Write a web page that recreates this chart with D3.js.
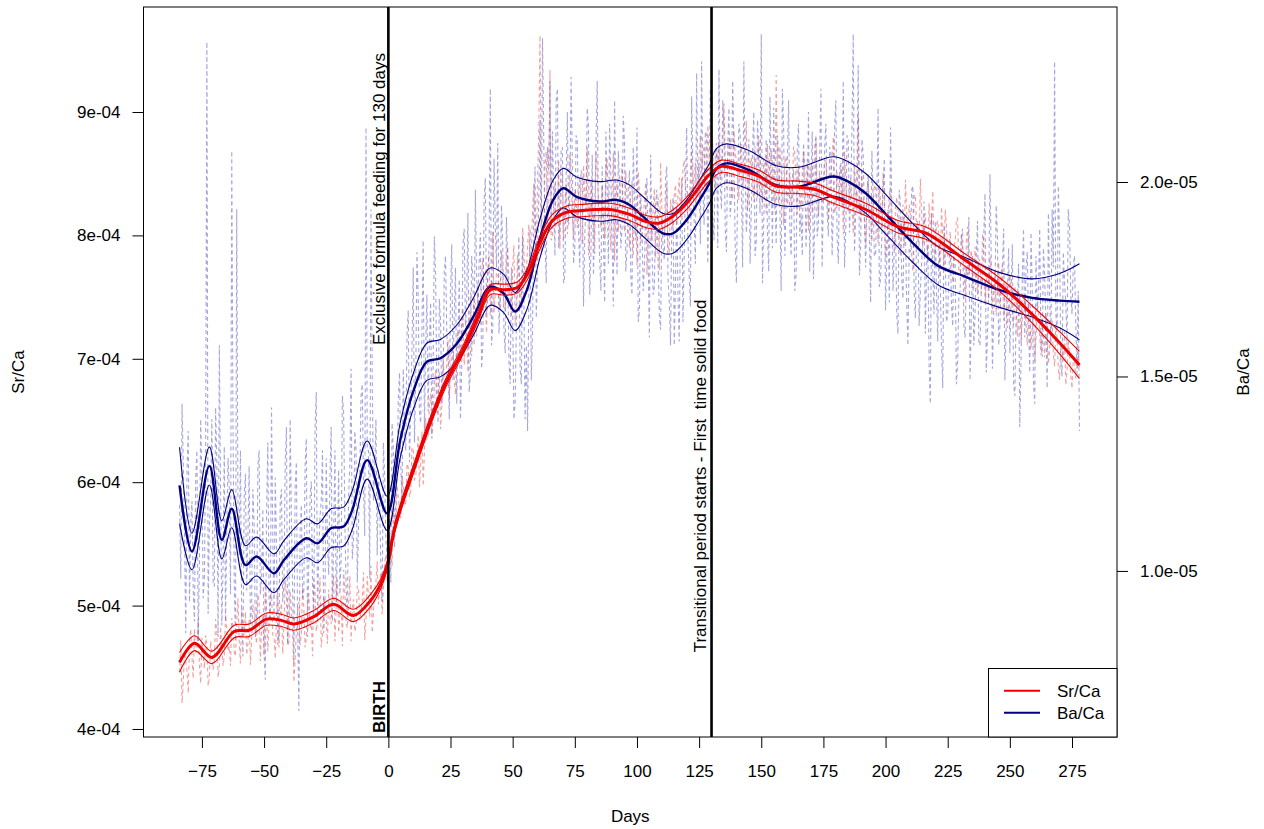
<!DOCTYPE html>
<html>
<head>
<meta charset="utf-8">
<script src="https://cdn.jsdelivr.net/npm/d3@7"></script>
<style>
  body { margin: 0; background: #fff; }
  svg { display: block; font-family: "Liberation Sans", Arial, sans-serif; }
</style>
</head>
<body>
<svg id="chart" width="1264" height="829"></svg>
<script>
// Units used in the stored arrays
const SR_UNIT = 1e-6;   // Sr/Ca values are stored in units of 1e-6
const BA_UNIT = 1e-7;   // Ba/Ca values are stored in units of 1e-7

// Samples are taken twice a day: whole days -84 .. 278 and half days -83.5 .. 277.5 (day 0 = birth)
const wholeDays = d3.range(-84, 279);
const halfDays = d3.range(-83.5, 278, 1);

const srRaw = [
  446,421,462,447,470,458,481,463,452,474,
  449,468,441,462,455,478,450,466,459,482,
  467,490,462,485,471,498,476,460,489,472,
  494,469,503,481,460,497,486,512,474,491,
  466,502,484,509,470,495,438,480,503,477,
  498,473,510,488,521,479,496,466,507,490,
  513,485,524,499,478,508,529,486,501,471,
  505,483,514,496,527,489,508,532,495,519,
  501,526,512,541,528,549,582,566,588,571,
  598,581,612,593,627,604,638,615,597,652,
  637,672,650,691,668,643,702,679,715,688,
  706,671,723,698,741,712,689,754,727,745,
  761,728,782,744,769,735,803,752,773,741,
  766,739,791,748,775,727,784,759,806,762,
  791,772,820,798,845,962,803,856,812,934,
  798,842,811,789,853,824,801,866,815,837,
  806,848,793,832,871,809,826,785,851,818,
  840,797,862,814,833,779,845,821,858,803,
  829,790,844,812,776,835,801,826,768,819,
  795,838,807,772,824,799,842,786,818,833,
  809,847,826,861,834,818,872,845,829,866,
  851,873,838,862,890,844,868,879,852,907,
  838,872,846,885,861,829,874,851,893,840,
  863,827,856,881,839,862,818,847,869,834,
  930,826,851,808,864,837,819,872,843,856,
  821,868,835,804,857,842,879,816,848,829,
  861,812,846,880,823,839,855,801,842,819,
  847,801,836,897,810,829,792,844,815,826,
  838,794,826,851,781,817,839,797,822,806,
  784,825,845,799,816,771,833,808,846,790,
  818,779,805,836,787,812,766,798,821,782,
  803,762,795,814,770,789,748,807,781,763,
  791,752,778,801,744,769,783,739,772,757,
  741,776,749,725,768,736,759,718,751,733,
  752,711,738,726,697,744,719,733,701,725,
  708,731,694,717,683,709,722,690,705,676,
  701,688,693
];
const srRawHalf = [
  472,438,455,429,481,441,462,490,437,459,
  476,435,471,448,489,442,483,451,492,463,
  451,483,459,506,453,479,495,469,452,501,
  478,509,455,492,518,463,502,476,457,514,
  493,461,521,468,512,479,456,499,468,515,
  466,503,482,459,512,487,523,478,501,469,
  489,516,471,521,493,467,511,482,524,498,
  479,516,488,503,472,524,491,478,513,536,
  514,493,535,519,557,532,561,597,574,605,
  583,615,588,628,602,619,596,641,623,635,
  662,639,677,656,689,662,684,698,667,709,
  683,712,704,729,695,731,718,702,746,718,
  741,767,749,721,784,759,738,771,745,787,
  744,778,761,734,792,751,772,741,788,771,
  809,785,842,779,884,826,791,868,823,796,
  827,808,861,834,796,842,822,855,797,831,
  834,799,857,821,784,844,812,868,829,806,
  815,853,828,788,867,824,803,839,816,852,
  807,836,783,821,852,794,817,843,798,827,
  821,782,831,859,803,815,791,829,806,841,
  832,815,854,838,809,850,829,859,837,881,
  864,836,889,851,871,838,861,845,874,866,
  859,880,829,867,846,871,838,862,820,857,
  844,872,831,859,826,851,874,836,858,821,
  849,872,836,860,822,851,840,866,817,838,
  851,829,862,843,818,872,835,850,826,858,
  837,829,863,818,851,824,845,868,826,838,
  826,858,819,838,852,811,837,824,795,841,
  812,841,806,828,794,832,812,788,831,797,
  809,792,818,825,784,832,803,791,819,808,
  794,826,812,782,809,797,823,776,808,791,
  779,792,813,770,801,782,796,768,788,757,
  768,781,753,794,762,748,771,756,735,778,
  759,731,762,743,756,727,749,738,712,744,
  729,745,708,734,715,741,703,718,737,696,
  722,703,728,691,712,698,679,714,687,701,
  684,706
];

const baRaw = [
  117,143,109,126,92,118,87,131,102,124,
  98,236,112,139,96,128,158,86,132,111,
  121,208,97,193,104,88,119,95,127,91,
  112,86,131,98,79,115,93,142,88,106,
  84,121,97,137,90,113,76,128,64,117,
  95,134,102,123,89,146,105,118,84,129,
  99,137,110,92,126,103,141,96,119,152,
  108,131,112,145,121,214,131,193,118,139,
  126,101,133,108,122,97,131,118,144,127,
  152,131,167,143,178,149,171,138,185,157,
  141,169,152,176,138,164,148,181,155,172,
  149,178,160,139,184,163,192,151,175,198,
  168,187,158,201,176,224,163,189,210,171,
  184,156,179,148,167,143,175,152,186,139,
  136,188,162,204,178,216,237,185,209,226,
  213,181,224,191,209,176,218,196,205,183,
  211,178,202,186,219,171,207,192,226,180,
  204,169,197,215,185,221,176,199,188,210,
  182,203,171,196,214,167,189,178,201,160,
  185,173,198,166,191,180,204,169,188,158,
  194,159,201,181,214,176,222,190,228,205,
  231,189,212,198,220,185,210,229,193,214,
  182,219,196,208,174,215,199,231,187,211,
  193,218,185,206,238,190,211,177,203,219,
  184,207,172,214,195,221,181,203,176,215,
  192,210,183,218,199,175,212,189,224,197,
  215,186,208,193,221,179,205,226,188,211,
  198,238,192,230,184,207,178,202,169,196,
  181,219,175,199,167,193,214,172,189,161,
  194,170,187,158,182,199,165,190,172,186,
  161,184,143,177,190,159,174,147,181,166,
  185,163,179,154,172,188,160,176,149,181,
  166,190,158,175,197,161,202,152,170,186,
  163,178,149,171,156,184,145,168,137,175,
  160,182,151,173,143,167,188,155,176,147,
  171,193,231,162,185,150,174,158,189,166,
  181,152,136
];
const baRawHalf = [
  98,128,84,136,112,95,124,82,139,93,
  131,89,118,97,142,83,121,101,87,129,
  94,138,82,116,131,78,125,109,86,121,
  83,127,94,116,72,133,87,109,124,81,
  118,92,128,81,139,95,122,86,110,93,
  127,83,119,96,137,88,114,131,92,108,
  124,87,131,106,94,145,113,88,127,103,
  136,97,124,148,109,131,98,151,126,104,
  117,92,124,103,112,138,106,125,151,118,
  135,161,128,157,133,182,141,162,136,171,
  159,134,186,147,170,143,177,161,139,184,
  166,143,175,152,188,169,146,181,158,176,
  179,152,195,166,183,158,206,178,161,194,
  162,191,154,178,139,163,186,148,171,158,
  171,149,193,165,196,182,211,174,203,188,
  196,221,183,208,174,201,189,227,179,212,
  187,203,168,195,214,183,176,209,191,172,
  186,213,179,201,168,192,208,183,217,177,
  198,176,209,185,164,197,172,193,181,207,
  171,194,179,162,183,201,175,158,196,174,
  171,189,164,199,185,168,203,179,196,184,
  198,213,179,224,191,207,183,199,221,188,
  209,191,226,184,197,212,178,203,194,179,
  208,181,216,192,174,201,187,222,183,197,
  212,193,224,181,206,188,199,172,209,186,
  181,204,195,177,213,191,186,207,178,209,
  192,209,181,214,186,203,194,178,212,187,
  214,182,203,176,211,191,197,186,208,181,
  197,173,186,206,181,169,194,183,166,198,
  175,191,169,183,198,172,188,163,179,195,
  178,153,192,166,171,185,158,189,164,177,
  169,182,148,171,186,163,178,191,166,158,
  181,159,172,186,151,173,181,167,194,158,
  177,188,162,183,171,148,165,179,154,188,
  178,165,187,149,181,172,159,183,164,192,
  158,178,166,199,154,182,169,193,171,178,
  164,172
];

// Smoothed Sr/Ca fit with its confidence half-width
const srFitDays = [-84,-78,-71,-62,-56,-49,-43,-38,-30,-22,
  -14,-7,-3,0,2,5,10,17,23,30,
  36,41,47,52,56,61,66,72,77,89,
  97,104,109,114,120,125,129,134,141,149,
  156,165,172,179,192,205,216,232,246,259,
  270,278];
const srFit = [454,469.5,458,479,480,489,488,485,491,501,
  492,504.5,518,536,558,580,610,650,680,707,
  734,756,756,758,769,794,812,819,820,821,
  817,811,810,815,826,839,849,856,853,848,
  840,839,837,831,821,807,802,780,760,736,
  713,695];
const srCI = [8,6,5,5,5,5,5,5,5,5,
  5,5,4,3.5,3.5,3.5,3.5,3.5,3.5,3.5,
  4,4,4.5,4.5,4.5,5,5,5,5,5,
  5,5,5,5,5,5,5,5,5,5,
  5,5,5,5,5,5,5,5,5.5,7,
  9,11];

// Smoothed Ba/Ca fit with its confidence half-width
const baFitDays = [-84,-79,-72,-67,-63,-57.5,-53,-46,-42,-33,
  -28.5,-23,-18,-14.5,-8.5,-0.5,4.8,10.2,15.5,20.9,
  27.6,34.2,41,46.3,51,55.7,61.2,66.3,70.4,75.7,
  85,91.8,97.1,102.5,110.5,114.5,119.9,125.2,129.2,132,
  136,145,156,165,179,185,192,201,211,221,
  232,246,259,270,278];
const baFit = [122,105,127,108,116,101.5,103.7,99.4,102.8,108.4,
  107.1,111,111.4,115.7,128.5,114.8,133.7,146.5,153.8,154.7,
  158.5,165.4,173.1,171.4,166.7,172.2,186,195.4,198.4,196.2,
  195,195.4,194.1,191.1,186.8,186.8,190.2,195.4,199.7,203.5,
  204.8,203.1,199.2,198.8,201.4,200.1,197.1,191.1,184.3,178.5,
  175.7,172.2,170.2,169.5,169.2];
const baCI = [9.8,4.7,4.9,4.9,4.9,5,5,5,5,5,
  5,5,5,5,4.9,4.4,4.5,4.6,4.8,4.8,
  4.8,4.8,4.8,4.9,4.9,5,5,5.1,5.1,5.1,
  5.1,5.1,5.1,5.1,5.1,5.1,5.1,5.1,5.1,5.1,
  5,5,5,5,5.1,5.1,5.1,5.1,5,4.9,
  4.9,4.5,4.9,7,9.8];

// Axis ticks
const xTicks = [-75,-50,-25,0,25,50,75,100,125,150,175,200,225,250,275];
const srTicks = [4e-4,5e-4,6e-4,7e-4,8e-4,9e-4];
const srTickLabels = ["4e-04","5e-04","6e-04","7e-04","8e-04","9e-04"];
const baTicks = [1.0e-5,1.5e-5,2.0e-5];
const baTickLabels = ["1.0e-05","1.5e-05","2.0e-05"];

// Event markers
const eventDays = [0, 130];

// ---------------------------------------------------------------
const svg = d3.select("#chart");
const plot = { left: 143.5, right: 1117, top: 7, bottom: 737 };
const FONT = 17;

const x = d3.scaleLinear().domain([-98.5, 293.1]).range([plot.left, plot.right]);
const ySr = d3.scaleLinear().domain([3.935e-4, 9.851e-4]).range([plot.bottom, plot.top]);
const yBa = d3.scaleLinear().domain([5.73e-6, 2.450e-5]).range([plot.bottom, plot.top]);

svg.append("clipPath").attr("id", "plotClip")
  .append("rect")
  .attr("x", plot.left).attr("y", plot.top)
  .attr("width", plot.right - plot.left).attr("height", plot.bottom - plot.top);

const g = svg.append("g").attr("clip-path", "url(#plotClip)");

function mergeSamples(whole, wholeVals, half, halfVals, unit) {
  return whole.map((d, i) => ({ day: d, v: wholeVals[i] * unit }))
    .concat(half.map((d, i) => ({ day: d, v: halfVals[i] * unit })))
    .sort((a, b) => a.day - b.day);
}
const srData = mergeSamples(wholeDays, srRaw, halfDays, srRawHalf, SR_UNIT);
const baData = mergeSamples(wholeDays, baRaw, halfDays, baRawHalf, BA_UNIT);

const rawSr = d3.line().x(d => x(d.day)).y(d => ySr(d.v));
const rawBa = d3.line().x(d => x(d.day)).y(d => yBa(d.v));

// raw measurements (dashed, pale)
g.append("path").datum(srData)
  .attr("d", rawSr).attr("fill", "none")
  .attr("stroke", "rgba(232,96,96,0.6)").attr("stroke-width", 1.1)
  .attr("stroke-dasharray", "4,3");
g.append("path").datum(baData)
  .attr("d", rawBa).attr("fill", "none")
  .attr("stroke", "rgba(100,100,200,0.58)").attr("stroke-width", 1.1)
  .attr("stroke-dasharray", "4,3");

// smoothed fits
function fitSeries(days, fit, ci, unit) {
  return {
    mid: days.map((d, i) => ({ day: d, v: fit[i] * unit })),
    up: days.map((d, i) => ({ day: d, v: (fit[i] + ci[i]) * unit })),
    lo: days.map((d, i) => ({ day: d, v: (fit[i] - ci[i]) * unit }))
  };
}
const srSmooth = fitSeries(srFitDays, srFit, srCI, SR_UNIT);
const baSmooth = fitSeries(baFitDays, baFit, baCI, BA_UNIT);

const smoothSr = d3.line().curve(d3.curveCatmullRom.alpha(0.5)).x(d => x(d.day)).y(d => ySr(d.v));
const smoothBa = d3.line().curve(d3.curveCatmullRom.alpha(0.5)).x(d => x(d.day)).y(d => yBa(d.v));

const NAVY = "#000080", RED = "#ee0000";
[baSmooth.up, baSmooth.lo].forEach(s =>
  g.append("path").datum(s).attr("d", smoothBa).attr("fill", "none")
    .attr("stroke", NAVY).attr("stroke-width", 1.1));
g.append("path").datum(baSmooth.mid).attr("d", smoothBa).attr("fill", "none")
  .attr("stroke", NAVY).attr("stroke-width", 2.4);

[srSmooth.up, srSmooth.lo].forEach(s =>
  g.append("path").datum(s).attr("d", smoothSr).attr("fill", "none")
    .attr("stroke", RED).attr("stroke-width", 1.1));
g.append("path").datum(srSmooth.mid).attr("d", smoothSr).attr("fill", "none")
  .attr("stroke", RED).attr("stroke-width", 3);

// event lines
svg.selectAll(".event").data(eventDays).enter().append("line")
  .attr("x1", d => x(d)).attr("x2", d => x(d))
  .attr("y1", plot.top).attr("y2", plot.bottom)
  .attr("stroke", "#000").attr("stroke-width", 2.6);

// plot frame
svg.append("rect")
  .attr("x", plot.left).attr("y", plot.top)
  .attr("width", plot.right - plot.left).attr("height", plot.bottom - plot.top)
  .attr("fill", "none").attr("stroke", "#000").attr("stroke-width", 1);

// axes
function styleAxis(sel) {
  sel.select(".domain").remove();
  sel.selectAll(".tick line").attr("stroke", "#000");
  sel.selectAll(".tick text").attr("font-size", FONT).attr("fill", "#000")
    .attr("font-family", "Liberation Sans, Arial, sans-serif");
}
svg.append("g").attr("transform", `translate(0,${plot.bottom})`)
  .call(d3.axisBottom(x).tickValues(xTicks).tickSize(11).tickPadding(17).tickFormat(d3.format("d")))
  .call(styleAxis);
svg.append("g").attr("transform", `translate(${plot.left},0)`)
  .call(d3.axisLeft(ySr).tickValues(srTicks).tickSize(11).tickPadding(12)
    .tickFormat((d, i) => srTickLabels[i]))
  .call(styleAxis);
svg.append("g").attr("transform", `translate(${plot.right},0)`)
  .call(d3.axisRight(yBa).tickValues(baTicks).tickSize(11).tickPadding(12)
    .tickFormat((d, i) => baTickLabels[i]))
  .call(styleAxis);

// axis titles
const textStyle = s => s.attr("font-size", FONT).attr("fill", "#000");
svg.append("text").text("Days").attr("x", (plot.left + plot.right) / 2).attr("y", 822)
  .attr("text-anchor", "middle").call(textStyle);
svg.append("text").text("Sr/Ca").attr("transform", "translate(24,372) rotate(-90)")
  .attr("text-anchor", "middle").call(textStyle);
svg.append("text").text("Ba/Ca").attr("transform", "translate(1249,372) rotate(-90)")
  .attr("text-anchor", "middle").call(textStyle);

// event annotations
svg.append("text").text("Exclusive formula feeding for 130 days")
  .attr("transform", `translate(${x(0) - 3.5},199) rotate(-90)`)
  .attr("text-anchor", "middle").call(textStyle);
svg.append("text").text("BIRTH")
  .attr("transform", `translate(${x(0) - 3.5},733) rotate(-90)`)
  .attr("text-anchor", "start").attr("font-weight", "bold").call(textStyle);
svg.append("text").text("Transitional period starts - First\u00a0 time solid food")
  .attr("transform", `translate(${x(130) - 5.5},476) rotate(-90)`)
  .attr("text-anchor", "middle").call(textStyle);

// legend
const legend = svg.append("g");
legend.append("rect").attr("x", 988.5).attr("y", 668.5)
  .attr("width", plot.right - 988.5).attr("height", plot.bottom - 668.5)
  .attr("fill", "#fff").attr("stroke", "#000").attr("stroke-width", 1);
const legendItems = [{ name: "Sr/Ca", color: RED, y: 690.7 }, { name: "Ba/Ca", color: NAVY, y: 712.7 }];
legendItems.forEach(it => {
  legend.append("line").attr("x1", 1004).attr("x2", 1040).attr("y1", it.y).attr("y2", it.y)
    .attr("stroke", it.color).attr("stroke-width", 2);
  legend.append("text").text(it.name).attr("x", 1057).attr("y", it.y).attr("dy", "0.35em")
    .call(textStyle);
});
</script>
</body>
</html>
